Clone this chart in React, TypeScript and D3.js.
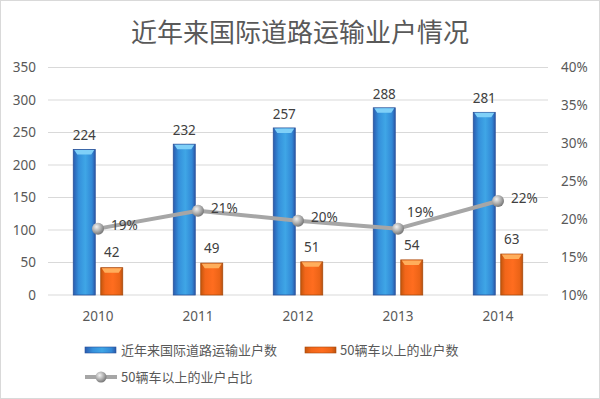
import * as d3 from "d3";

const years = ["2010", "2011", "2012", "2013", "2014"];
const totalHouseholds = [224, 232, 257, 288, 281];
const bigFleetHouseholds = [42, 49, 51, 54, 63];
const bigFleetShare = [0.1875, 0.211, 0.198, 0.1875, 0.224];
const shareLabels = ["19%", "21%", "20%", "19%", "22%"];
// where Excel put each percentage label
const shareLabelPlacement = ["right", "right", "right", "above", "right"];

const leftTicks = [0, 50, 100, 150, 200, 250, 300, 350];
const rightTicks = [0.1, 0.15, 0.2, 0.25, 0.3, 0.35, 0.4];

const seriesNames = ["近年来国际道路运输业户数", "50辆车以上的业户数", "50辆车以上的业户占比"];

const W = 600;
const H = 399;
const margin = { top: 67.5, right: 52, bottom: 104, left: 48 };
const FONT = "'Noto Sans', 'Noto Sans CJK SC', sans-serif";
const TEXT = "#595959";

export default function App() {
  const x = d3
    .scaleBand<string>()
    .domain(years)
    .range([margin.left, W - margin.right]);
  const inner = d3
    .scaleBand<string>()
    .domain(["total", "big"])
    .range([0, x.bandwidth()])
    .paddingInner(0.2)
    .paddingOuter(0.92);
  const y = d3
    .scaleLinear()
    .domain([0, 350])
    .range([H - margin.bottom, margin.top]);
  const y2 = d3
    .scaleLinear()
    .domain([0.1, 0.4])
    .range([H - margin.bottom, margin.top]);

  const cx = (yr: string) => (x(yr) || 0) + x.bandwidth() / 2;
  const line = d3
    .line<number>()
    .x((_, i) => cx(years[i]))
    .y((d) => y2(d));

  const bw = inner.bandwidth();

  const bar = (
    yr: string,
    key: string,
    v: number,
    grad: string,
    cap: string,
    stroke: string
  ) => {
    const bx = (x(yr) || 0) + (inner(key) || 0);
    const by = y(v);
    const bh = y(0) - by;
    return (
      <g key={yr + key}>
        <rect x={bx} y={by} width={bw} height={bh} fill={`url(#${grad})`} stroke={stroke} strokeWidth={0.8} />
        <path
          d={`M${bx + 1},${by + 0.5} L${bx + bw - 1},${by + 0.5} L${bx + bw - 4},${by + 5} L${bx + 4},${by + 5} Z`}
          fill={cap}
        />
      </g>
    );
  };

  return (
    <div style={{ position: "fixed", left: 0, top: 0 }}>
      <svg width={W} height={H} style={{ display: "block", fontFamily: FONT }}>
        <defs>
          <linearGradient id="blueG" x1="0" x2="1" y1="0" y2="0">
            <stop offset="0" stopColor="#2a5caf" />
            <stop offset="0.25" stopColor="#3590db" />
            <stop offset="0.55" stopColor="#3fa6e6" />
            <stop offset="0.85" stopColor="#3288d6" />
            <stop offset="1" stopColor="#2a58a8" />
          </linearGradient>
          <linearGradient id="orangeG" x1="0" x2="1" y1="0" y2="0">
            <stop offset="0" stopColor="#c4560c" />
            <stop offset="0.2" stopColor="#f2661a" />
            <stop offset="0.55" stopColor="#ff6d1f" />
            <stop offset="0.85" stopColor="#ec6417" />
            <stop offset="1" stopColor="#b9520e" />
          </linearGradient>
          <radialGradient id="ballG" cx="0.38" cy="0.35" r="0.7">
            <stop offset="0" stopColor="#f2f2f2" />
            <stop offset="0.6" stopColor="#a6a6a6" />
            <stop offset="1" stopColor="#6f6f6f" />
          </radialGradient>
        </defs>

        <rect x={0.5} y={0.5} width={W - 1} height={H - 1} fill="#fff" stroke="#d9d9d9" />

        <text x={W / 2} y={42} textAnchor="middle" fontSize={26} fill={TEXT} fontFamily="'Noto Sans CJK SC', sans-serif">
          近年来国际道路运输业户情况
        </text>

        {/* gridlines */}
        {leftTicks.map((t) => (
          <line
            key={t}
            x1={margin.left}
            x2={W - margin.right}
            y1={y(t)}
            y2={y(t)}
            stroke="#d9d9d9"
            strokeWidth={1}
          />
        ))}

        {leftTicks.map((t) => (
          <text key={"l" + t} x={36} y={y(t)} dy="0.35em" textAnchor="end" fontSize={13.5} fill={TEXT}>
            {t}
          </text>
        ))}
        {rightTicks.map((t) => (
          <text key={"r" + t} x={561} y={y2(t)} dy="0.35em" textAnchor="start" fontSize={13.5} fill={TEXT}>
            {Math.round(t * 100) + "%"}
          </text>
        ))}
        {years.map((yr) => (
          <text key={"x" + yr} x={cx(yr)} y={316} dy="0.35em" textAnchor="middle" fontSize={13.5} fill={TEXT}>
            {yr}
          </text>
        ))}

        {/* bars */}
        {years.map((yr, i) => bar(yr, "total", totalHouseholds[i], "blueG", "#7fd0f8", "#2a5299"))}
        {years.map((yr, i) => bar(yr, "big", bigFleetHouseholds[i], "orangeG", "#ffae5c", "#a8490c"))}

        {years.map((yr, i) => (
          <text
            key={"tv" + yr}
            x={(x(yr) || 0) + (inner("total") || 0) + bw / 2}
            y={y(totalHouseholds[i]) - 14}
            dy="0.35em"
            textAnchor="middle"
            fontSize={13.5}
            fill="#404040"
          >
            {totalHouseholds[i]}
          </text>
        ))}
        {years.map((yr, i) => (
          <text
            key={"bv" + yr}
            x={(x(yr) || 0) + (inner("big") || 0) + bw / 2}
            y={y(bigFleetHouseholds[i]) - 15}
            dy="0.35em"
            textAnchor="middle"
            fontSize={13.5}
            fill="#404040"
          >
            {bigFleetHouseholds[i]}
          </text>
        ))}

        {/* share line */}
        <path d={line(bigFleetShare) || ""} fill="none" stroke="#a6a6a6" strokeWidth={4} strokeLinejoin="round" />
        {years.map((yr, i) => (
          <circle key={"m" + yr} cx={cx(yr)} cy={y2(bigFleetShare[i])} r={6} fill="url(#ballG)" />
        ))}
        {years.map((yr, i) => {
          const above = shareLabelPlacement[i] === "above";
          return (
            <text
              key={"s" + yr}
              x={cx(yr) + (above ? 9 : 13)}
              y={y2(bigFleetShare[i]) + (above ? -16 : -3)}
              dy="0.35em"
              textAnchor="start"
              fontSize={13.5}
              fill="#404040"
            >
              {shareLabels[i]}
            </text>
          );
        })}

        {/* legend */}
        <g fontSize={13} fill={TEXT}>
          <rect x={85} y={347} width={31} height={6} fill="url(#blueG)" stroke="#2a5299" strokeWidth={0.6} />
          <text x={121} y={350} dy="0.35em" fontFamily="'Noto Sans CJK SC', sans-serif">
            {seriesNames[0]}
          </text>
          <rect x={305} y={347} width={31} height={6} fill="url(#orangeG)" stroke="#a8490c" strokeWidth={0.6} />
          <text x={340} y={350} dy="0.35em" fontFamily="'Noto Sans CJK SC', sans-serif">
            {seriesNames[1]}
          </text>
          <line x1={85} x2={117} y1={377} y2={377} stroke="#a6a6a6" strokeWidth={4} />
          <circle cx={101} cy={377} r={5.5} fill="url(#ballG)" />
          <text x={121} y={377} dy="0.35em" fontFamily="'Noto Sans CJK SC', sans-serif">
            {seriesNames[2]}
          </text>
        </g>
      </svg>
    </div>
  );
}
